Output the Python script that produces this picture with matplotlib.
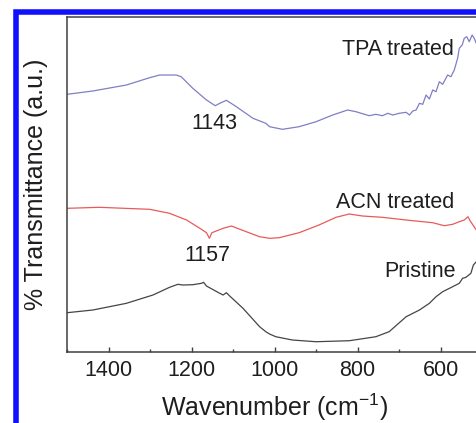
import matplotlib
matplotlib.use("Agg")
import matplotlib.pyplot as plt
from matplotlib.patches import Rectangle
from matplotlib.ticker import MultipleLocator

plt.rcParams['font.family'] = ['Liberation Sans', 'DejaVu Sans']
plt.rcParams['mathtext.fontset'] = 'custom'
plt.rcParams['mathtext.rm'] = 'Liberation Sans'

# FTIR spectra (wavenumber in cm-1, transmittance in a.u.)
tpa_wn = [1500, 1438, 1357, 1301, 1277, 1237, 1225, 1197, 1164, 1143, 1132, 1116,
          1092, 1052, 1021, 1012, 981, 941, 900, 860, 824, 804, 772, 756, 740, 727,
          715, 700, 683, 675, 667, 659, 651, 643, 635, 627, 619, 611, 603, 595,
          583, 575, 567, 559, 555, 548, 543, 537, 531, 524, 519, 514, 505, 500]
tpa_t = [257.7, 261, 267, 274.3, 277, 277, 275.3, 263.7, 252, 246.3, 248.7, 251.7,
         245.3, 233.7, 228.7, 225.3, 222.7, 225.3, 230.3, 237, 242, 240.3, 236.3,
         237.7, 236.3, 238.7, 237, 238.7, 239.7, 237, 241, 242, 248.7, 247.7, 257,
         253, 262, 260.3, 270.3, 267.7, 277, 275.3, 282, 293.7, 303.7, 307, 313.7,
         315.3, 310.3, 317, 313.7, 308.7, 305, 303]

acn_wn = [1500, 1422, 1301, 1253, 1212, 1180, 1164, 1157, 1151, 1124, 1104, 1068,
          1036, 1012, 989, 941, 893, 852, 820, 788, 740, 683, 619, 591, 571, 555,
          543, 534, 529, 522, 514, 505, 500]
acn_t = [143.7, 144.7, 142.7, 138.7, 132, 123.7, 119.3, 113.7, 119.3, 123.7, 126,
         120.3, 115.3, 113.7, 114.3, 119.3, 127, 134.7, 138, 136, 134.7, 132, 129.3,
         126.3, 127.7, 130.3, 132, 135.3, 131.3, 127, 122, 118, 116]

pri_wn = [1500, 1438, 1357, 1293, 1253, 1233, 1221, 1197, 1176, 1171, 1164, 1132,
          1124, 1116, 1108, 1076, 1036, 1021, 1012, 997, 957, 900, 820, 756, 724,
          683, 651, 627, 611, 595, 571, 555, 547, 539, 527, 521, 514, 505, 500]
pri_t = [39.3, 42, 48.7, 57, 64.7, 67.7, 67, 67.3, 68.7, 69.7, 66, 58.7, 57, 59.3,
         56, 43.7, 25.3, 20.3, 18, 15.3, 12, 10.3, 11.3, 15.3, 20.3, 35.3, 42, 48.7,
         55.3, 60.3, 65.3, 68.7, 73.7, 74.7, 78.7, 87, 90.3, 93, 95]

fig = plt.figure(figsize=(4.76, 4.23), dpi=100)
ax = fig.add_axes([0.1408, 0.1678, 0.872, 0.792])

ax.plot(tpa_wn, tpa_t, color='#7f7fc4', lw=0.9)
ax.plot(acn_wn, acn_t, color='#e85a5a', lw=0.9)
ax.plot(pri_wn, pri_t, color='#454545', lw=0.9)

ax.set_xlim(1500, 500)
ax.set_ylim(0, 335)

fs = 15.5
tc = '#1e1e1e'
ax.text(567, 303, 'TPA treated', ha='right', va='center', fontsize=fs, color=tc)
ax.text(1144, 229, '1143', ha='center', va='center', fontsize=fs, color=tc)
ax.text(567, 149.5, 'ACN treated', ha='right', va='center', fontsize=fs, color=tc)
ax.text(1162, 96.7, '1157', ha='center', va='center', fontsize=fs, color=tc)
ax.text(563, 80.7, 'Pristine', ha='right', va='center', fontsize=fs, color=tc)

ax.xaxis.set_major_locator(MultipleLocator(200))
ax.xaxis.set_minor_locator(MultipleLocator(100))
ax.set_yticks([])
ax.tick_params(axis='x', which='both', direction='in', top=False, colors='#404040',
               labelcolor=tc, labelsize=fs, pad=5.5)
ax.tick_params(axis='x', which='major', length=3.6, width=1)
ax.tick_params(axis='x', which='minor', length=2.2, width=1)
for s in ax.spines.values():
    s.set_color('#404040')
    s.set_linewidth(1.1)

ax.set_xlabel('Wavenumber (cm$\\mathregular{^{-1}}$)', fontsize=18, color=tc, labelpad=8)
ax.set_ylabel('% Transmittance (a.u.)', fontsize=18, color=tc, labelpad=14)

# blue frame around the figure, running off the right and bottom edges
fig.add_artist(Rectangle((15.7 / 476, -0.2), 2, (423 - 12) / 423 + 0.2,
                         transform=fig.transFigure, fill=False, ec='#1010ff',
                         lw=4.0, clip_on=False))

fig.savefig('out.png', dpi=100)
